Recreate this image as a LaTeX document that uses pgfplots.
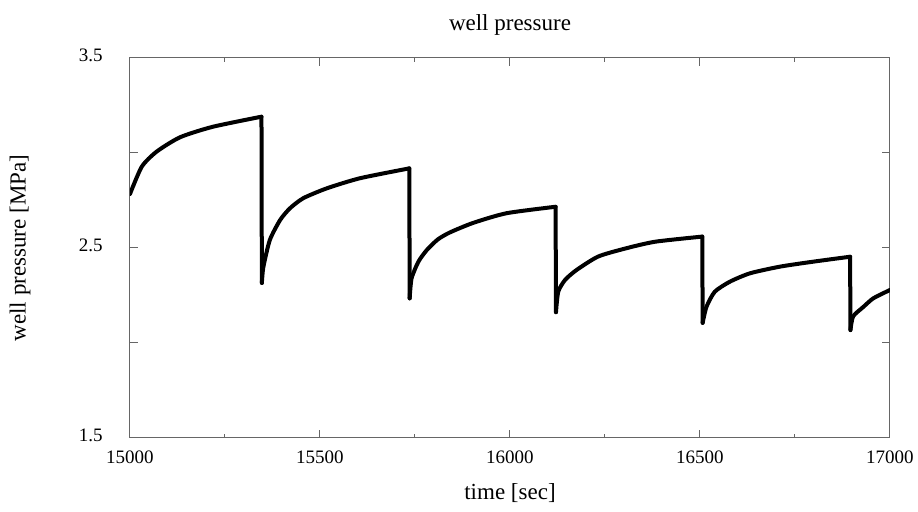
\documentclass[border=0pt]{standalone}
\usepackage{fontspec}
\setmainfont{Liberation Serif}
\usepackage{pgfplots}
\pgfplotsset{compat=1.18}
\begin{document}
\fontsize{9}{11}\selectfont
\begin{tikzpicture}
\begin{axis}[
  at={(0,0)}, anchor=south west,
  scale only axis, width=380pt, height=190pt,
  xmin=15000, xmax=17000, ymin=1.5, ymax=3.5,
  scaled x ticks=false, scaled y ticks=false,
  xtick={15000,15500,16000,16500,17000},
  xticklabels={15000,15500,16000,16500,17000},
  minor xtick={15250,15750,16250,16750},
  ytick={1.5,2,2.5,3,3.5},
  yticklabels={1.5,,2.5,,3.5},
  tick align=inside,
  major tick length=4pt, minor tick length=2pt,
  every tick/.style={black!60, line width=0.5pt},
  axis line style={black!60, line width=0.5pt},
  /pgf/number format/assume math mode=true,
  tick label style={font=\fontsize{9.5}{11}\selectfont},
  xticklabel style={yshift=-3pt},
  yticklabel style={xshift=-10.5pt, yshift=1.5pt},
  title={well pressure},
  title style={yshift=2pt, font=\fontsize{11.5}{13}\selectfont},
  xlabel={time [sec]},
  xlabel style={yshift=-4pt, font=\fontsize{11.5}{13}\selectfont},
  ylabel={well pressure [MPa]},
  ylabel style={yshift=18pt, font=\fontsize{11.5}{13}\selectfont},
  clip=true,
  unbounded coords=jump,
]
\pgfplotsset{seg/.style={black, line width=2pt, line join=round, line cap=round, smooth, tension=0.4}}
\addplot[seg] coordinates {
(15000,2.784) (15031,2.928) (15070,3.007) (15132,3.083) (15218,3.138) (15346,3.191)};
\addplot[seg] coordinates {
(15347,2.316) (15351,2.40) (15368,2.542) (15395,2.647) (15421,2.709) (15456,2.762) (15518,2.814) (15605,2.867) (15735,2.919)};
\addplot[seg] coordinates {
(15736,2.235) (15741,2.34) (15759,2.428) (15781,2.489) (15810,2.545) (15842,2.582) (15903,2.632) (15991,2.683) (16120,2.717)};
\addplot[seg] coordinates {
(16121,2.162) (16127,2.27) (16145,2.332) (16175,2.384) (16232,2.455) (16303,2.497) (16382,2.533) (16506,2.56)};
\addplot[seg] coordinates {
(16507,2.106) (16517,2.19) (16539,2.27) (16579,2.323) (16632,2.367) (16711,2.402) (16798,2.428) (16895,2.454)};
\addplot[seg] coordinates {
(16896,2.068) (16903,2.14) (16930,2.19) (16956,2.235) (17000,2.279)};
% vertical drops
\addplot[black, line width=2pt, line cap=round] coordinates {
(15346,3.191) (15347,2.316) (15347,nan)
(15735,2.919) (15736,2.235) (15736,nan)
(16120,2.717) (16121,2.162) (16121,nan)
(16506,2.56) (16507,2.106) (16507,nan)
(16895,2.454) (16896,2.068)};
\end{axis}
\pgfresetboundingbox
\path[use as bounding box] (-65pt,-37pt) rectangle (394pt,219pt);
\end{tikzpicture}
\end{document}
